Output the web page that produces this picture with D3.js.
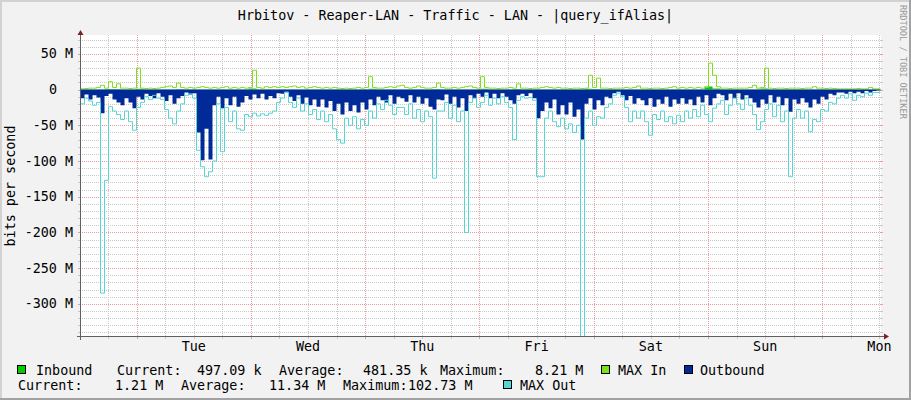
<!DOCTYPE html>
<html><head><meta charset="utf-8">
<script src="https://cdn.jsdelivr.net/npm/d3@7"></script>
<style>
html,body{margin:0;padding:0;background:#f2f2f2;overflow:hidden;}
svg{display:block;}
text{font-family:"DejaVu Sans Mono",monospace;}
</style></head><body>
<svg id="c" width="911" height="400"></svg>
<script>
const title = "Hrbitov - Reaper-LAN - Traffic - LAN - |query_ifAlias|";
const yAxisTitle = "bits per second";
const watermark = "RRDTOOL / TOBI OETIKER";
const dayLabels = ["Tue","Wed","Thu","Fri","Sat","Sun","Mon"];
const yTickValues = [50,0,-50,-100,-150,-200,-250,-300]; // M
const yTickLabels = ["50 M","0","-50 M","-100 M","-150 M","-200 M","-250 M","-300 M"];

// Outbound average (M, drawn negative), 200 samples over the week
const outboundAvg = [
12,7,14,8,11,33,9,6,14,18,
22,12,18,26,10,14,6,9,12,5,
10,16,8,20,12,9,4,7,5,60,
99,55,98,22,10,26,12,22,10,24,
18,9,14,7,12,6,14,9,12,5,
6,3,10,16,8,20,11,22,14,24,
14,25,16,30,20,35,18,30,22,32,
18,28,14,22,10,15,18,8,20,10,
12,17,8,18,10,20,12,24,28,14,
15,7,20,10,25,12,30,8,12,6,
10,4,12,6,12,5,10,15,20,8,
6,9,5,12,40,30,18,26,14,35,
22,35,18,38,28,70,20,12,28,15,
22,10,12,5,3,8,15,9,20,12,
15,22,12,24,14,20,10,24,14,20,
12,20,14,22,10,18,8,22,12,6,
8,15,6,12,5,14,8,12,18,25,
14,20,8,18,10,22,12,31,14,20,
12,18,25,14,20,10,14,6,8,4,
4,6,3,5,3,5,2,4,2,1.2];
// MAX Out (M, drawn negative), 200 samples
const outboundMax = [
20,12,16,22,18,285,127,24,30,35,
42,30,45,57,25,18,10,14,8,12,
14,28,40,48,30,20,8,6,12,85,
108,122,115,100,20,87,25,45,30,55,
57,35,38,33,37,34,36,33,30,18,
12,4,18,25,12,30,20,35,28,42,
30,45,35,55,70,75,40,50,38,55,
42,50,30,40,20,28,15,22,35,25,
25,35,20,40,28,45,30,38,124,30,
30,18,40,22,45,30,200,18,12,25,
18,8,22,12,20,10,18,25,70,15,
10,12,11,15,122,122,40,30,45,52,
40,55,48,60,50,350,40,30,50,38,
40,25,20,8,5,10,25,45,30,40,
30,45,64,35,42,30,45,38,48,36,
45,30,40,28,38,22,35,45,26,20,
15,35,22,12,20,28,12,22,35,56,
45,28,20,38,22,45,30,122,40,28,
40,30,59,42,45,28,30,18,20,12,
8,12,6,15,8,10,5,8,4,4];
// MAX In (M), 200 samples
const inboundMax = [
1,1.5,2,2,3,6,2,11,3,8,
2,2,1.5,2,30,2,1.5,2,1.5,2,
3,4,5,3,9,3,2,3,2,3,
4,3,2,3,2,3,4,2,3,2,
3,2,3,27,3,2,4,3,4,3,
4,3,4,5,3,4,2,3,4,3,
2,3,2,3,2,1.5,2,1.5,2,3,
2,3,18,3,2,2,3,4,3,5,
6,3,2,3,5,3,2,2,3,9,
3,2,2,3,2,3,4,5,3,2,
18,3,2,2,1.5,2,2,3,2,8,
2,2,1.5,2,2,3,4,3,2,3,
2,2,1.5,2,2,1.5,2,20,3,16,
2,2,1.5,2,2,2,3,2,3,5,
2,2,1.5,2,2,1.5,2,3,4,2,
3,2,3,2,3,2,3,37,20,4,
2,2,1.5,2,2,2,2,3,6,2,
3,30,2,1.5,2,2,1.5,2,2,2,
1.5,2,2,4,2,2,1.5,2,1.5,1,
1,1,1,1,1.5,1,1,3,1,1];
// Inbound average (M), 100 samples
const inboundAvg = [
0.4,0.5,0.6,0.9,0.7,0.4,0.3,1.2,0.4,0.3,
0.5,0.4,0.8,0.3,0.4,0.5,0.4,0.3,0.5,0.3,
0.4,1.5,0.3,0.5,0.4,0.6,0.5,0.3,0.4,0.4,
0.3,0.4,0.3,0.3,0.3,0.4,1.0,0.3,0.5,0.6,
0.4,0.3,0.5,0.3,0.8,0.4,0.3,0.4,0.5,0.3,
1.0,0.3,0.3,0.3,0.7,0.3,0.3,0.5,0.4,0.3,
0.3,0.3,0.3,1.2,0.9,0.3,0.3,0.3,0.4,0.5,
0.3,0.3,0.3,0.5,0.3,0.4,0.3,0.4,4.2,1.6,
0.3,0.3,0.3,0.3,0.6,1.5,0.3,0.3,0.3,0.3,
0.3,0.5,0.3,0.3,0.3,0.3,0.3,0.3,0.4,0.5];

const legendNames = ["Inbound","MAX In","Outbound","MAX Out"];
const legendColors = ["#00CC00","#7EE01A","#002A97","#55D6D3"];
const statLabels = ["Current:","Average:","Maximum:"];
const inboundStats = ["497.09 k","481.35 k","8.21 M"];
const outboundStats = ["1.21 M","11.34 M","102.73 M"];

const W=911,H=400;
const svg=d3.select("#c");
svg.append("rect").attr("width",W).attr("height",H).attr("fill","#f2f2f2");
svg.append("rect").attr("x",0).attr("y",0).attr("width",W).attr("height",2).attr("fill","#d2d2d2");
svg.append("rect").attr("x",0).attr("y",0).attr("width",2).attr("height",H).attr("fill","#d2d2d2");
svg.append("rect").attr("x",0).attr("y",H-2).attr("width",W).attr("height",2).attr("fill","#a2a2a2");
svg.append("rect").attr("x",W-2).attr("y",0).attr("width",2).attr("height",H).attr("fill","#a2a2a2");

const FS="13.4px";
const start=new Date(2024,0,1,12,13);
const end=new Date(start.getTime()+168*3600e3);
const x=d3.scaleTime().domain([start,end]).range([80.5,880.5]);
const y=d3.scaleLinear().domain([-345e6,75e6]).range([336,36]);
const L=80, R=881, T=35, B=336;

svg.append("rect").attr("x",L).attr("y",T).attr("width",R-L).attr("height",B-T).attr("fill","#fff");

const grid=svg.append("g");
const minorC="#c8c8c8", majorC="#eb9b9b";
d3.range(-340,71,10).forEach(v=>{
  const yy=Math.round(y(v*1e6))+0.5;
  const major=v%50===0;
  grid.append("line").attr("x1",L).attr("x2",R).attr("y1",yy).attr("y2",yy)
    .attr("stroke",major?majorC:minorC).attr("stroke-dasharray","1,1");
  grid.append("line").attr("x1",L-2).attr("x2",L).attr("y1",yy).attr("y2",yy)
    .attr("stroke",major?majorC:minorC);
  grid.append("line").attr("x1",R).attr("x2",R+2).attr("y1",yy).attr("y2",yy)
    .attr("stroke",major?majorC:minorC);
});
const days=d3.timeDay.range(start,end);
d3.timeHour.every(6).range(start,end).forEach(t=>{
  const major=t.getHours()===0;
  const xx=Math.round(x(t))+0.5;
  grid.append("line").attr("x1",xx).attr("x2",xx).attr("y1",T).attr("y2",B)
    .attr("stroke",major?majorC:minorC).attr("stroke-dasharray","1,1");
  grid.append("line").attr("x1",xx).attr("x2",xx).attr("y1",B).attr("y2",B+3)
    .attr("stroke",major?majorC:minorC);
});

svg.append("clipPath").attr("id","cp").append("rect").attr("x",L).attr("y",T).attr("width",R-L).attr("height",B-T);
const plot=svg.append("g").attr("clip-path","url(#cp)");

function series(arr,sign){
  const step=(end-start)/arr.length;
  const pts=arr.map((v,i)=>[new Date(+start+i*step),sign*v*1e6]);
  pts.push([end,sign*arr[arr.length-1]*1e6]);
  return pts;
}
const area=d3.area().curve(d3.curveStepAfter).x(d=>x(d[0])).y0(y(0)).y1(d=>y(d[1]));
const line=d3.line().curve(d3.curveStepAfter).x(d=>x(d[0])).y(d=>y(d[1]));

plot.append("path").attr("d",area(series(inboundAvg,1))).attr("fill",legendColors[0]);
plot.append("path").attr("d",line(series(inboundMax,1))).attr("fill","none").attr("stroke",legendColors[1]).attr("stroke-width",1);
plot.append("path").attr("d",area(series(outboundAvg,-1))).attr("fill",legendColors[2]);
plot.append("path").attr("d",line(series(outboundMax,-1))).attr("fill","none").attr("stroke",legendColors[3]).attr("stroke-width",1);

const axC="#606060", arC="#801f1f";
svg.append("line").attr("x1",L-3).attr("x2",884).attr("y1",B+0.5).attr("y2",B+0.5).attr("stroke",axC);
svg.append("line").attr("x1",L+0.5).attr("x2",L+0.5).attr("y1",35).attr("y2",B+4).attr("stroke",axC);
svg.append("path").attr("d","M884,333.5L889,336.5L884,339.5Z").attr("fill",arC);
svg.append("path").attr("d","M77.5,35L80.5,30L83.5,35Z").attr("fill",arC);

yTickValues.forEach((v,i)=>{
  svg.append("text").attr("x",v===0?57:73).attr("y",y(v*1e6)+4.6)
    .attr("text-anchor","end").attr("font-size",FS).attr("fill","#000").text(yTickLabels[i]);
});
days.forEach((d,i)=>{
  const t=new Date(+d+12*3600e3);
  svg.append("text").attr("x",x(t)).attr("y",351).attr("text-anchor","middle")
    .attr("font-size",FS).attr("fill","#000").text(dayLabels[i]);
});
svg.append("text").attr("x",455.5).attr("y",19.5).attr("text-anchor","middle").attr("font-size",FS).attr("fill","#000").text(title);
svg.append("text").attr("transform","translate(15,186) rotate(-90)").attr("text-anchor","middle").attr("font-size",FS).attr("fill","#000").text(yAxisTitle);
svg.append("text").attr("transform","translate(900,5) rotate(90)").attr("font-size","8.6px").attr("fill","#9a9a9a").text(watermark);

function box(xx,yy,c){svg.append("rect").attr("x",xx+0.5).attr("y",yy+0.5).attr("width",8).attr("height",8).attr("fill",c).attr("stroke","#000").attr("stroke-width",1);}
function txt(xx,yy,s){svg.append("text").attr("x",xx).attr("y",yy).attr("font-size",FS).attr("fill","#000").text(s);}
const r1=374.5,r2=389.5;
box(17,365,legendColors[0]); txt(36,r1,legendNames[0]);
txt(117,r1,statLabels[0]); txt(197,r1,inboundStats[0]);
txt(279,r1,statLabels[1]); txt(363,r1,inboundStats[1]);
txt(440,r1,statLabels[2]); txt(535,r1,inboundStats[2]);
box(601,365,legendColors[1]); txt(618,r1,legendNames[1]);
box(684,365,legendColors[2]); txt(700,r1,legendNames[2]);
txt(18,r2,statLabels[0]); txt(115,r2,outboundStats[0]);
txt(181,r2,statLabels[1]); txt(269,r2,outboundStats[1]);
txt(343,r2,statLabels[2]); txt(408,r2,outboundStats[2]);
box(503,380,legendColors[3]); txt(520,r2,legendNames[3]);
</script>
</body></html>
